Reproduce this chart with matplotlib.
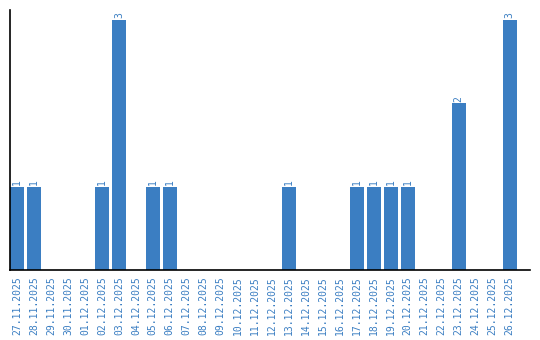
import matplotlib
matplotlib.use("Agg")
import matplotlib.pyplot as plt

dates = ["27.11.2025", "28.11.2025", "29.11.2025", "30.11.2025", "01.12.2025",
         "02.12.2025", "03.12.2025", "04.12.2025", "05.12.2025", "06.12.2025",
         "07.12.2025", "08.12.2025", "09.12.2025", "10.12.2025", "11.12.2025",
         "12.12.2025", "13.12.2025", "14.12.2025", "15.12.2025", "16.12.2025",
         "17.12.2025", "18.12.2025", "19.12.2025", "20.12.2025", "21.12.2025",
         "22.12.2025", "23.12.2025", "24.12.2025", "25.12.2025", "26.12.2025"]
counts = [1, 1, 0, 0, 0, 1, 3, 0, 1, 1,
          0, 0, 0, 0, 0, 0, 1, 0, 0, 0,
          1, 1, 1, 1, 0, 0, 2, 0, 0, 3]

blue = "#3b7ec2"
plt.rcParams["font.family"] = "DejaVu Sans Mono"

fig = plt.figure(figsize=(5.4, 3.4), dpi=100)
ax = fig.add_axes([10 / 540, 70 / 340, 520 / 540, 260 / 340])

x = list(range(len(dates)))
ax.bar(x, counts, width=0.82, color=blue)
for i, c in enumerate(counts):
    if c > 0:
        ax.text(i, c + 0.02, str(c), rotation=90, ha="center", va="bottom",
                color=blue, fontsize=7)

ax.set_xlim(-0.41, 30.2)
ax.set_ylim(0, 3.12)
ax.set_xticks(x)
ax.set_xticklabels(dates, rotation=90, color=blue, fontsize=7)
ax.tick_params(axis="x", length=0, pad=4.5)
ax.set_yticks([])
ax.spines["top"].set_visible(False)
ax.spines["right"].set_visible(False)
ax.spines["left"].set_linewidth(1.2)
ax.spines["bottom"].set_linewidth(1.2)

fig.savefig("out.png", dpi=100)
